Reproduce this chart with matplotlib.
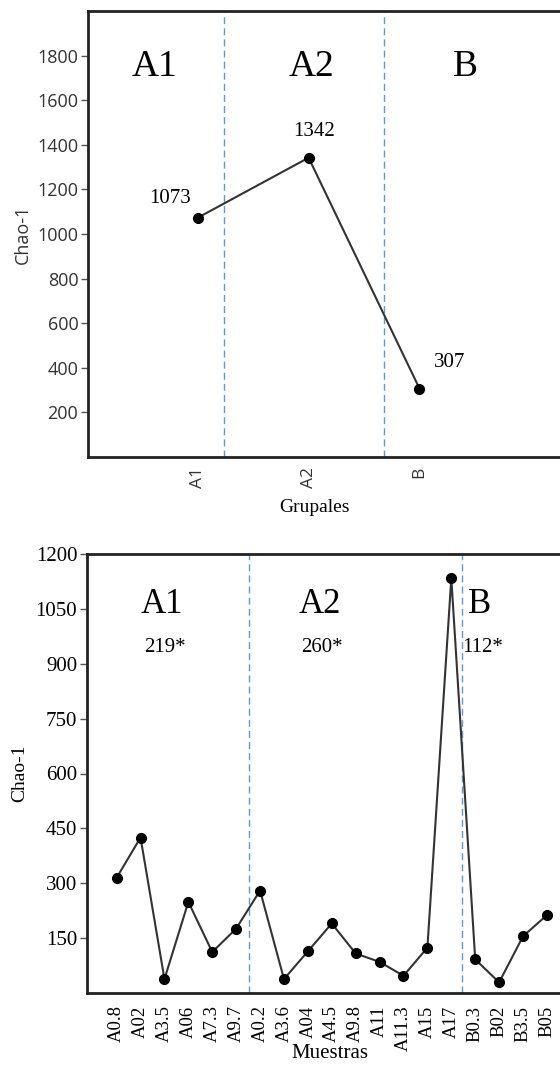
import numpy as np
import matplotlib
matplotlib.use("Agg")
import matplotlib.pyplot as plt

# datos grupales
grupos = ["A1", "A2", "B"]
chao_grupal = [1073, 1342, 307]

# datos por muestra
muestras = ["A0.8", "A02", "A3.5", "A06", "A7.3", "A9.7",
            "A0.2", "A3.6", "A04", "A4.5", "A9.8", "A11", "A11.3", "A15", "A17",
            "B0.3", "B02", "B3.5", "B05"]
chao_muestras = [315, 425, 38, 249, 112, 176,
                 280, 38, 114, 190, 108, 85, 47, 124, 1134,
                 92, 29, 155, 213]
promedios = ["219*", "260*", "112*"]

serif = ["Liberation Serif", "DejaVu Serif"]
sans = ["Open Sans", "DejaVu Sans"]
linea = "#333333"
azul = "#5b9bd5"
W, H = 560, 1072

fig = plt.figure(figsize=(W / 100, H / 100), dpi=100)


def px_axes(left, right, top, bottom):
    return fig.add_axes([left / W, (H - bottom) / H, (right - left) / W, (bottom - top) / H])


# ---------------- panel superior ----------------
ax1 = px_axes(88, 578, 11, 457)
x1 = np.arange(len(grupos))
ax1.plot(x1, chao_grupal, color=linea, lw=1.5, marker="o", ms=7,
         mfc="black", mec="black", zorder=3)
ax1.set_xlim(-0.99, 3.43)
ax1.set_ylim(0, 2000)
ax1.set_yticks(range(200, 1801, 200))
ax1.set_xticks(x1)
ax1.set_xticklabels(grupos, rotation=90, family=sans, fontsize=12.5, color="#333333")
for t in ax1.get_yticklabels():
    t.set_family(sans)
    t.set_fontsize(13)
    t.set_color("#333333")
ax1.tick_params(axis="y", length=5, width=1, color="#555555", pad=2)
ax1.tick_params(axis="x", length=0, pad=7)
for sep in [0.234, 1.676]:
    ax1.axvline(sep, color=azul, lw=1, ls=(0, (5, 3)), zorder=1)
for x, lab in zip([-0.39, 1.03, 2.41], grupos):
    ax1.text(x, 1750, lab, family=serif, fontsize=27, ha="center", va="center")
offs = [(-20, 14), (4, 19), (22, 19)]
for x, v, o in zip(x1, chao_grupal, offs):
    ax1.annotate(str(v), (x, v), xytext=o, textcoords="offset points",
                 family=serif, fontsize=15, ha="center", va="center")
ax1.set_ylabel("Chao-1", family=sans, fontsize=13, color="#333333")
ax1.yaxis.set_label_coords(-0.114, 0.5)
ax1.set_xlabel("Grupales", family=serif, fontsize=14)
ax1.xaxis.set_label_coords((315 - 88) / 490, -0.094)

# ---------------- panel inferior ----------------
ax2 = px_axes(87, 578, 554, 993)
x2 = np.arange(len(muestras))
ax2.plot(x2, chao_muestras, color=linea, lw=1.5, marker="o", ms=7,
         mfc="black", mec="black", zorder=3)
ax2.set_xlim(-1.24, 19.3)
ax2.set_ylim(0, 1200)
ax2.set_yticks(range(150, 1201, 150))
ax2.set_xticks(x2)
ax2.set_xticklabels(muestras, rotation=90, family=serif, fontsize=13.5)
for t in ax2.get_yticklabels():
    t.set_family(serif)
    t.set_fontsize(15)
ax2.tick_params(axis="y", length=5, width=1, color="#555555", pad=2)
ax2.tick_params(axis="x", length=0, pad=9)
for sep in [5.54, 14.43]:
    ax2.axvline(sep, color=azul, lw=1, ls=(0, (5, 3)), zorder=1)
for x, lab, p in zip([1.9, 8.5, 15.2], grupos, promedios):
    ax2.text(x, 1061, lab, family=serif, fontsize=25, ha="center", va="center")
    ax2.text(x + 0.1, 945, p, family=serif, fontsize=15, ha="center", va="center")
ax2.set_ylabel("Chao-1", family=serif, fontsize=14)
ax2.yaxis.set_label_coords(-0.12, 0.5)
ax2.set_xlabel("Muestras", family=serif, fontsize=15)
ax2.xaxis.set_label_coords((330 - 87) / 491, -0.116)

for ax in (ax1, ax2):
    for s in ax.spines.values():
        s.set_linewidth(2)
        s.set_color("#222222")

fig.savefig("out.png", dpi=100)
